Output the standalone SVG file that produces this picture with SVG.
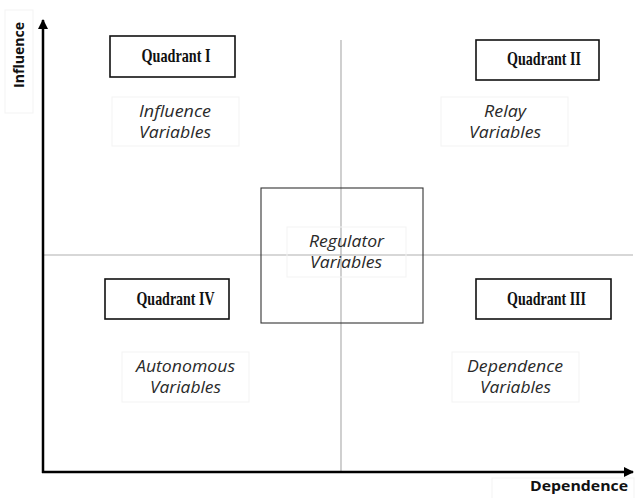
<svg xmlns="http://www.w3.org/2000/svg" width="635" height="498" viewBox="0 0 635 498">
  <style>
    .axis { stroke: #000; stroke-width: 2.5; fill: none; }
    .divider { stroke: #b0b0b0; stroke-width: 1.2; fill: none; }
    .qbox { fill: #fff; stroke: #111; stroke-width: 1.6; }
    .qtext { font-family: "Liberation Serif", "Times New Roman", serif; font-weight: bold; font-size: 19px; fill: #111; text-anchor: middle; }
    .lbox { fill: none; stroke: #f3f3f3; stroke-width: 1; }
    .ltext { font-family: "Open Sans", "Noto Sans", sans-serif; font-style: italic; font-size: 16px; fill: #2a2a2a; text-anchor: middle; }
    .centerbox { fill: none; stroke: #333; stroke-width: 1.1; }
    .axlabel { font-family: "Open Sans", "Noto Sans", sans-serif; font-weight: bold; font-size: 15px; fill: #111; }
  </style>
  <defs>
    <marker id="arrow" viewBox="0 0 10 10" refX="9" refY="5" markerWidth="4" markerHeight="4" orient="auto" markerUnits="strokeWidth">
      <path d="M0,0 L10,5 L0,10 z" fill="#000"/>
    </marker>
  </defs>
  <rect width="635" height="498" fill="#fff"/>

  <!-- connectors: axes and quadrant dividers -->
  <g id="connectors">
    <line class="divider" x1="341" y1="40" x2="341" y2="472"/>
    <line class="divider" x1="43" y1="255" x2="633" y2="255"/>
    <line class="axis" x1="43" y1="473" x2="43" y2="20" marker-end="url(#arrow)"/>
    <line class="axis" x1="42" y1="472" x2="633" y2="472" marker-end="url(#arrow)"/>
  </g>

  <!-- axis labels -->
  <g id="axis-influence">
    <rect class="lbox" x="5" y="10" width="28" height="103"/>
    <text class="axlabel" transform="translate(24,55) rotate(-90)" text-anchor="middle" textLength="66" lengthAdjust="spacingAndGlyphs">Influence</text>
  </g>
  <g id="axis-dependence">
    <rect class="lbox" x="492" y="478" width="142" height="25"/>
    <text class="axlabel" x="579" y="491" text-anchor="middle" textLength="98" lengthAdjust="spacingAndGlyphs">Dependence</text>
  </g>

  <!-- central regulator zone -->
  <g id="regulator">
    <rect class="centerbox" x="261" y="188" width="162" height="135"/>
    <rect class="lbox" x="287" y="227" width="119" height="50"/>
    <text class="ltext" x="346.5" y="247" textLength="75" lengthAdjust="spacingAndGlyphs">Regulator</text>
    <text class="ltext" x="346" y="268" textLength="72" lengthAdjust="spacingAndGlyphs">Variables</text>
  </g>

  <!-- quadrant headers -->
  <g id="quadrant-1">
    <rect class="qbox" x="110" y="36" width="125" height="41"/>
    <text class="qtext" x="176" y="62" textLength="69" lengthAdjust="spacingAndGlyphs">Quadrant I</text>
  </g>
  <g id="quadrant-2">
    <rect class="qbox" x="476" y="40" width="123" height="40"/>
    <text class="qtext" x="544" y="65" textLength="74" lengthAdjust="spacingAndGlyphs">Quadrant II</text>
  </g>
  <g id="quadrant-4">
    <rect class="qbox" x="105" y="279" width="124" height="40"/>
    <text class="qtext" x="175.5" y="305" textLength="78" lengthAdjust="spacingAndGlyphs">Quadrant IV</text>
  </g>
  <g id="quadrant-3">
    <rect class="qbox" x="476" y="279" width="135" height="40"/>
    <text class="qtext" x="546.5" y="305" textLength="79" lengthAdjust="spacingAndGlyphs">Quadrant III</text>
  </g>

  <!-- quadrant variable labels -->
  <g id="influence-variables">
    <rect class="lbox" x="112" y="97" width="127" height="49"/>
    <text class="ltext" x="175" y="117" textLength="72" lengthAdjust="spacingAndGlyphs">Influence</text>
    <text class="ltext" x="175" y="138" textLength="72" lengthAdjust="spacingAndGlyphs">Variables</text>
  </g>
  <g id="relay-variables">
    <rect class="lbox" x="441" y="97" width="127" height="49"/>
    <text class="ltext" x="505" y="117" textLength="42" lengthAdjust="spacingAndGlyphs">Relay</text>
    <text class="ltext" x="505" y="138" textLength="72" lengthAdjust="spacingAndGlyphs">Variables</text>
  </g>
  <g id="autonomous-variables">
    <rect class="lbox" x="122" y="352" width="127" height="50"/>
    <text class="ltext" x="185.5" y="372" textLength="99" lengthAdjust="spacingAndGlyphs">Autonomous</text>
    <text class="ltext" x="185.5" y="393" textLength="71" lengthAdjust="spacingAndGlyphs">Variables</text>
  </g>
  <g id="dependence-variables">
    <rect class="lbox" x="452" y="352" width="127" height="50"/>
    <text class="ltext" x="515" y="372" textLength="96" lengthAdjust="spacingAndGlyphs">Dependence</text>
    <text class="ltext" x="515.5" y="393" textLength="71" lengthAdjust="spacingAndGlyphs">Variables</text>
  </g>
</svg>
